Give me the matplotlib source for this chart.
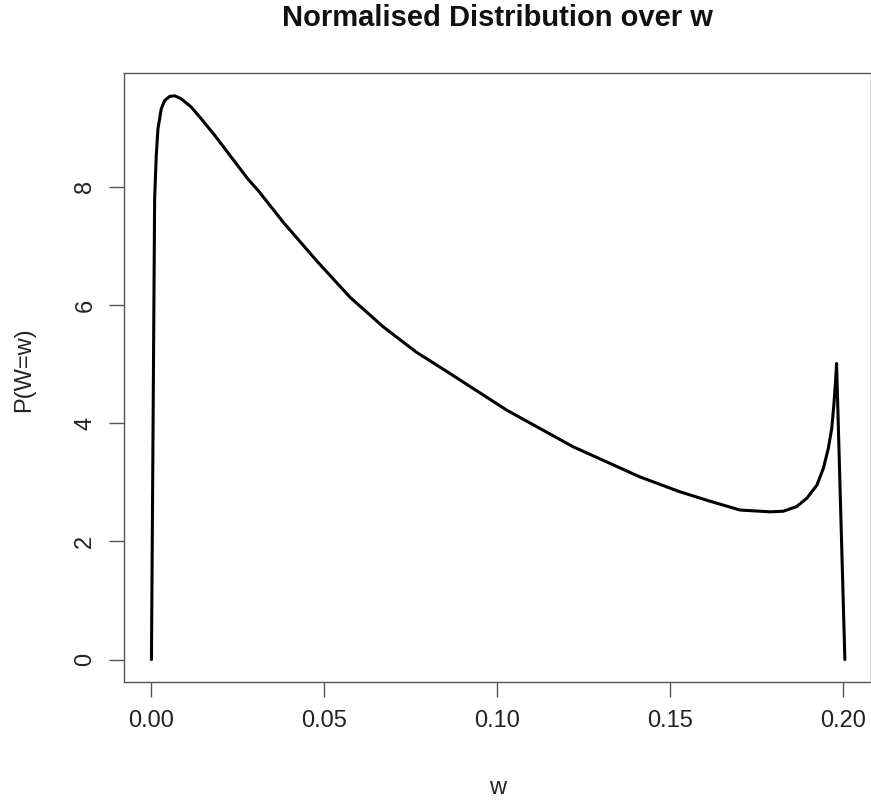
# density of w, normalised, drawn as a single black curve (base-R look)

import matplotlib
matplotlib.use("Agg")
import matplotlib.pyplot as plt

w_vals = [0.0, 0.00092, 0.00139, 0.00188, 0.00283, 0.00382, 0.00526, 0.00671,
          0.00861, 0.0115, 0.0144, 0.0183, 0.0231, 0.0279, 0.0308,
          0.0381, 0.0477, 0.0574, 0.067, 0.0766, 0.0863, 0.0892, 0.1027,
          0.1219, 0.1412, 0.1527, 0.1614, 0.1701, 0.1788, 0.1826, 0.1865,
          0.1894, 0.1923, 0.1942, 0.1956, 0.1966, 0.1972, 0.1977, 0.1980, 0.2004]
p_vals = [0.0, 7.80, 8.53, 8.98, 9.32, 9.46, 9.53, 9.54,
          9.49, 9.35, 9.15, 8.87, 8.50, 8.13, 7.94,
          7.40, 6.75, 6.13, 5.63, 5.20, 4.84, 4.73, 4.22,
          3.60, 3.09, 2.84, 2.68, 2.53, 2.50, 2.51, 2.59,
          2.73, 2.95, 3.24, 3.57, 3.91, 4.30, 4.70, 5.01, 0.0]

x_ticks = [0.0, 0.05, 0.10, 0.15, 0.20]
x_ticklabels = ["0.00", "0.05", "0.10", "0.15", "0.20"]
y_ticks = [0, 2, 4, 6, 8]

plt.rcParams["font.family"] = ["Liberation Sans", "DejaVu Sans"]

fig = plt.figure(figsize=(8.71, 8.0), dpi=100)
ax = fig.add_axes([0.1421, 0.1469, 0.8581, 0.7614])

ax.plot(w_vals, p_vals, color="black", linewidth=2.2,
        solid_joinstyle="round", solid_capstyle="round")

ax.set_xlim(-0.008, 0.208)
ax.set_ylim(-0.388, 9.92)

ax.set_xticks(x_ticks)
ax.set_xticklabels(x_ticklabels)
ax.set_yticks(y_ticks)
ax.set_yticklabels([str(v) for v in y_ticks], rotation=90, va="center")

for s in ax.spines.values():
    s.set_color("#555555")
    s.set_linewidth(1.0)

ax.tick_params(axis="both", direction="out", length=10.8, width=1.0,
               color="#555555", labelsize=17, labelcolor="#222222")
ax.tick_params(axis="x", pad=9)
ax.tick_params(axis="y", pad=9)

fig.text(497.5 / 871, 1 - 18 / 800, "Normalised Distribution over w",
         ha="center", va="center", fontsize=21, fontweight="bold", color="#111111")
fig.text(497.5 / 871, 1 - 788 / 800, "w", ha="center", va="center",
         fontsize=17, color="#222222")
fig.text(24 / 871, 1 - 370 / 800, "P(W=w)", ha="center", va="center",
         rotation=90, fontsize=17, color="#222222")

fig.savefig("out.png", dpi=100)
